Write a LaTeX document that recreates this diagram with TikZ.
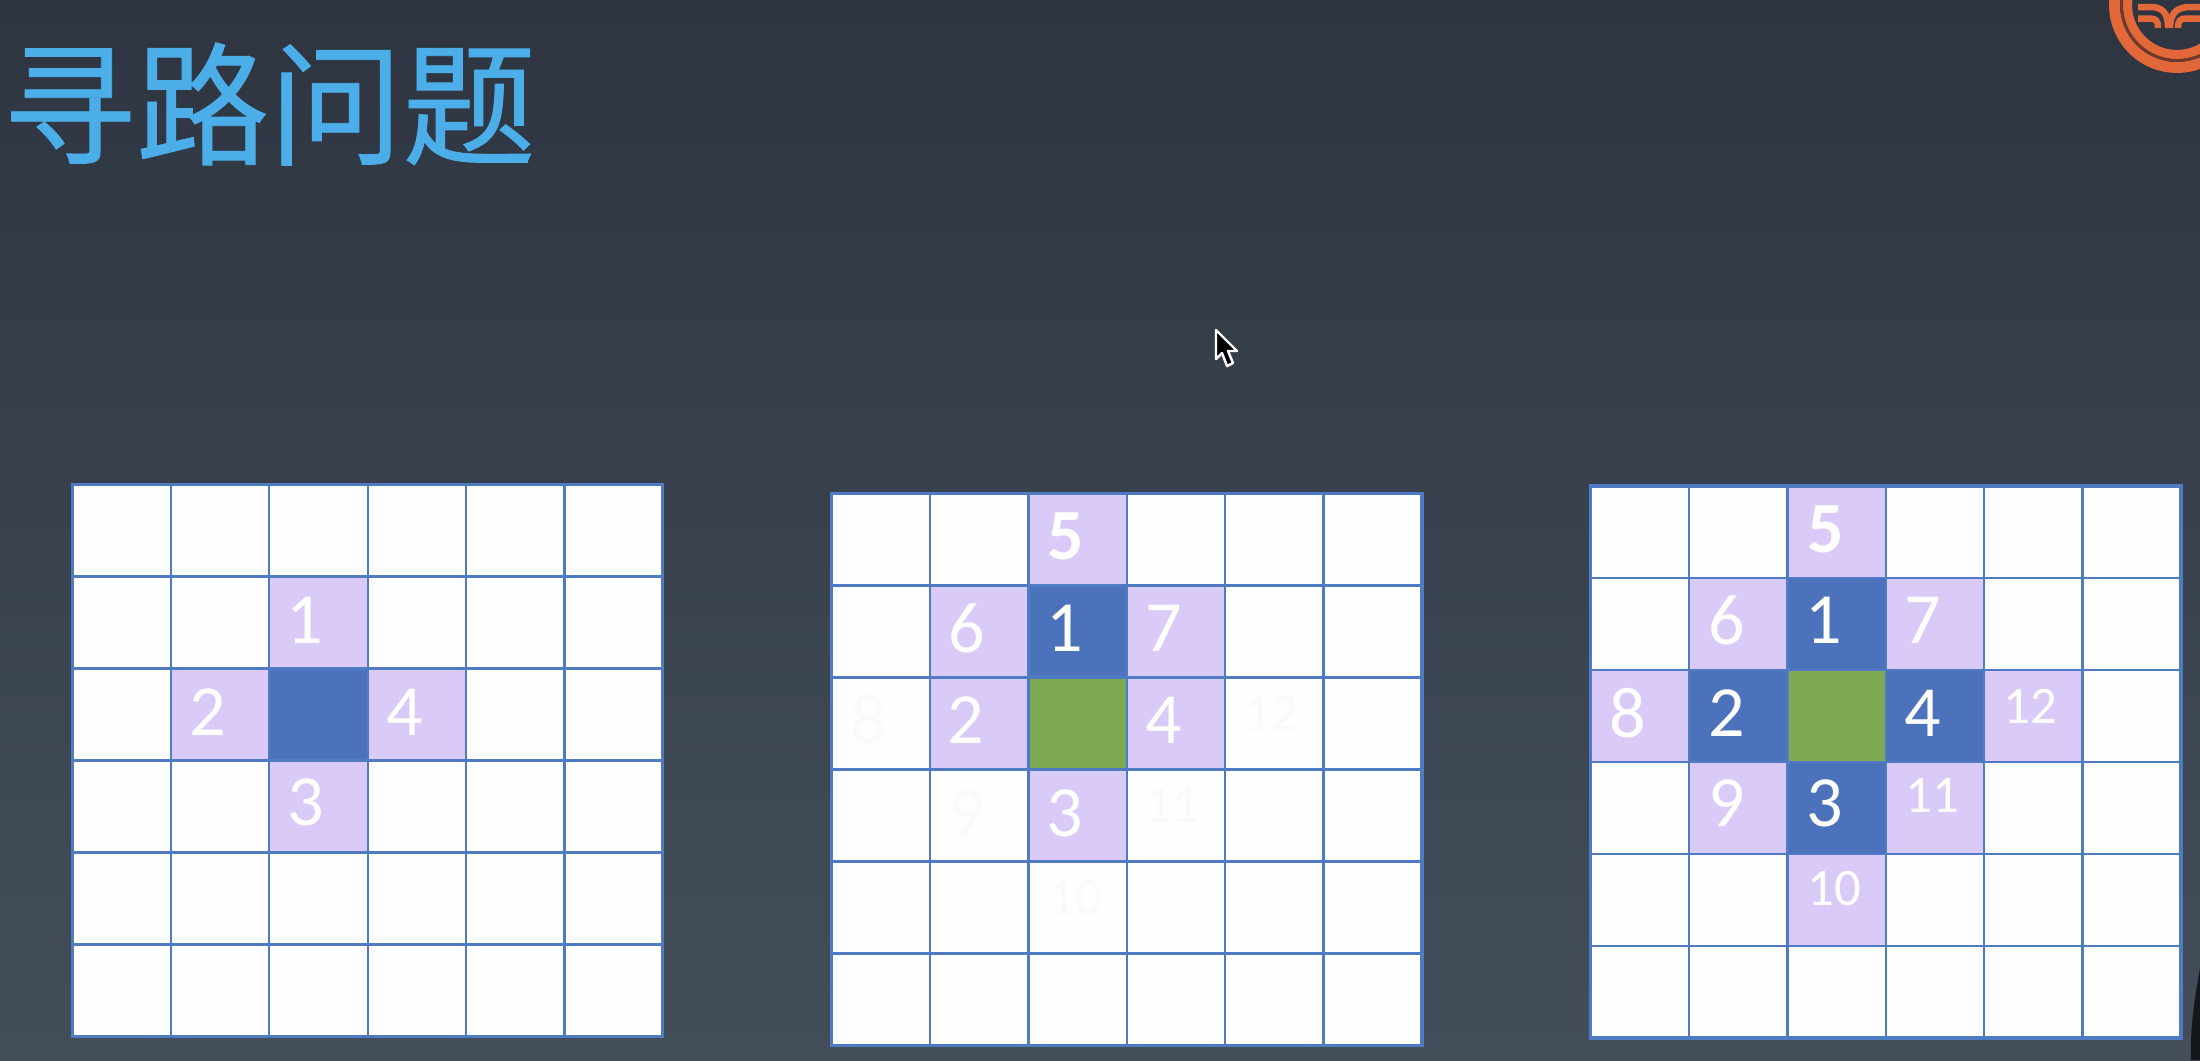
\documentclass[tikz,border=0pt]{standalone}
\usepackage{fontspec}
\setmainfont{Carlito}
\newfontfamily\cjkfont[FakeBold=0.6]{Noto Sans CJK SC}
\definecolor{bgtop}{HTML}{2E3541}
\definecolor{bgbot}{HTML}{444E5B}
\definecolor{titleblue}{HTML}{4BAEE8}
\definecolor{lav}{HTML}{D9CAF8}
\definecolor{cellblue}{HTML}{4C72BC}
\definecolor{cellgreen}{HTML}{80A954}
\definecolor{gridline}{HTML}{4F7BC2}
\definecolor{cellwhite}{HTML}{FEFEFF}
\definecolor{ghost}{HTML}{FAFAFC}
\definecolor{logoorange}{HTML}{E2683A}
\definecolor{logodark}{HTML}{6E3A2C}
\tikzset{
  x=0.01cm,y=-0.01cm,
  num/.style={inner sep=0pt,text=white,font=\fontsize{20.5}{20.5}\selectfont},
  numbold/.style={num,font=\fontsize{20.5}{20.5}\selectfont\bfseries},
  numsmall/.style={num,font=\fontsize{15}{15}\selectfont},
  ghostnum/.style={num,text=ghost},
  ghostsmall/.style={numsmall,text=ghost},
  titletext/.style={inner sep=0pt,anchor=west,text=titleblue,font=\fontsize{37.9}{37.9}\selectfont\cjkfont},
  gridlines/.style={draw=gridline,line width=0.68pt},
  gridframe/.style={draw=gridline,line width=0.9pt},
  logobar/.style={draw=logoorange,line width=1.85pt,line cap=butt}
}
% #1 x0, #2 y0, #3 list of fills: col/row/colour
\newcommand{\cellgrid}[3]{%
  \begin{scope}[shift={(#1,#2)}]
    \fill[cellwhite] (0,0) rectangle (590.4,552);
    \foreach \c/\r/\k in {#3}{
      \fill[\k] ({\c*98.4},{\r*92}) rectangle ++(98.4,92);
    }
    \foreach \i in {1,...,5}{
      \draw[gridlines] ({\i*98.4},0) -- ({\i*98.4},552);
      \draw[gridlines] (0,{\i*92}) -- (590.4,{\i*92});
    }
    \draw[gridframe] (0,0) rectangle (590.4,552);
  \end{scope}}
\begin{document}
\begin{tikzpicture}
\useasboundingbox (0,0) rectangle (2200,1060);
\fill[top color=bgtop,bottom color=bgbot] (0,0) rectangle (2200,1060);

% title
\node[titletext] (title) at (2,104) {寻路问题};

% logo
\begin{scope}
  \clip (0,0) rectangle (2200,1060);
  \draw[logoorange,line width=3.1pt] (2177,5) circle (62.5);
  \draw[logoorange,line width=2.6pt] (2177,5) circle (49.5);
  \draw[logodark,line width=0.8pt] (2177,5) circle (55.5);
  \draw[logobar] (2138,7) -- (2150,7) .. controls (2162,7) and (2168,12) .. (2168,28);
  \draw[logobar] (2200,7) -- (2190,7) .. controls (2178,7) and (2170,12) .. (2170,28);
  \draw[logobar] (2138,18.5) -- (2150,18.5) .. controls (2156,18.5) and (2158,21) .. (2158,28);
  \draw[logobar] (2200,18.5) -- (2186,18.5) .. controls (2180,18.5) and (2178,21) .. (2178,28);
\end{scope}

% mouse cursor
\draw[white,fill=black,line width=0.7pt,line join=round]
  (1216,330) -- (1216,359) -- (1222,353) -- (1227,366) -- (1233,363) -- (1228,351) -- (1237,351) -- cycle;

% grid 1
\cellgrid{72.5}{484.5}{2/1/lav,1/2/lav,2/2/cellblue,3/2/lav,2/3/lav}
\node[num] (a1) at (305,620) {1};
\node[num] (a2) at (208,712) {2};
\node[num] (a4) at (405,712) {4};
\node[num] (a3) at (306,802) {3};

% grid 2
\cellgrid{831.5}{493.5}{2/0/lav,1/1/lav,2/1/cellblue,3/1/lav,1/2/lav,2/2/cellgreen,3/2/lav,2/3/lav}
\node[numbold] (b5) at (1066,536) {5};
\node[num] (b6) at (967,628) {6};
\node[num] (b1) at (1065,628) {1};
\node[num] (b7) at (1164,628) {7};
\node[ghostnum] (b8) at (869,719) {8};
\node[num] (b2) at (966,720) {2};
\node[num] (b4) at (1164,720) {4};
\node[ghostsmall] (b12) at (1271,713) {12};
\node[ghostnum] (b9) at (967,813) {9};
\node[num] (b3) at (1065,813) {3};
\node[ghostsmall] (b11) at (1172,806) {11};
\node[ghostsmall] (b10) at (1075,898) {10};

% grid 3
\cellgrid{1590.5}{486}{2/0/lav,1/1/lav,2/1/cellblue,3/1/lav,0/2/lav,1/2/cellblue,2/2/cellgreen,3/2/cellblue,4/2/lav,1/3/lav,2/3/cellblue,3/3/lav,2/4/lav}
\node[numbold] (c5) at (1826,529) {5};
\node[num] (c6) at (1727,620) {6};
\node[num] (c1) at (1824,620) {1};
\node[num] (c7) at (1923,620) {7};
\node[num] (c8) at (1628,713) {8};
\node[num] (c2) at (1727,713) {2};
\node[num] (c4) at (1923,713) {4};
\node[numsmall] (c12) at (2030,706) {12};
\node[num] (c9) at (1727,803) {9};
\node[num] (c3) at (1825,803) {3};
\node[numsmall] (c11) at (1932,796) {11};
\node[numsmall] (c10) at (1834,889) {10};

% dark shape at the lower right edge
\fill[black!70!bgbot] (2200,968) .. controls (2194,1000) and (2190,1030) .. (2191,1060) -- (2200,1060) -- cycle;
\end{tikzpicture}
\end{document}
